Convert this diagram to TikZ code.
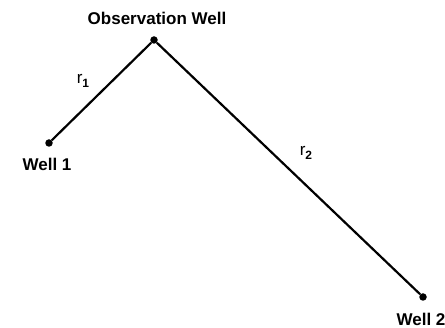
\documentclass[tikz,border=0pt]{standalone}
\usepackage{fontspec}
\setmainfont{Liberation Sans}
\begin{document}
\begin{tikzpicture}[x=1pt,y=-1pt,
  well/.style={circle,fill=black,inner sep=0pt,minimum size=7.5pt},
  lbl/.style={font=\fontsize{17}{20}\selectfont\bfseries,inner sep=0pt},
  rlbl/.style={font=\fontsize{17}{20}\selectfont,inner sep=0pt},
  conn/.style={line width=2.2pt}]
\useasboundingbox (0,0) rectangle (445,328);
\node[well] (obs) at (154,40) {};
\node[well] (w1) at (49,143) {};
\node[well] (w2) at (423,297) {};
\draw[conn] (w1) -- (obs) -- (w2);
\node[lbl] (tobs) at (157,18) {Observation Well};
\node[lbl] (tw1) at (47,164) {Well 1};
\node[lbl] (tw2) at (421,319) {Well 2};
\node[rlbl] (r1) at (83,81) {r\raisebox{-0.35ex}{\fontsize{12}{13}\selectfont\bfseries 1}};
\node[rlbl] (r2) at (306,153) {r\raisebox{-0.35ex}{\fontsize{12}{13}\selectfont\bfseries 2}};
\end{tikzpicture}
\end{document}
